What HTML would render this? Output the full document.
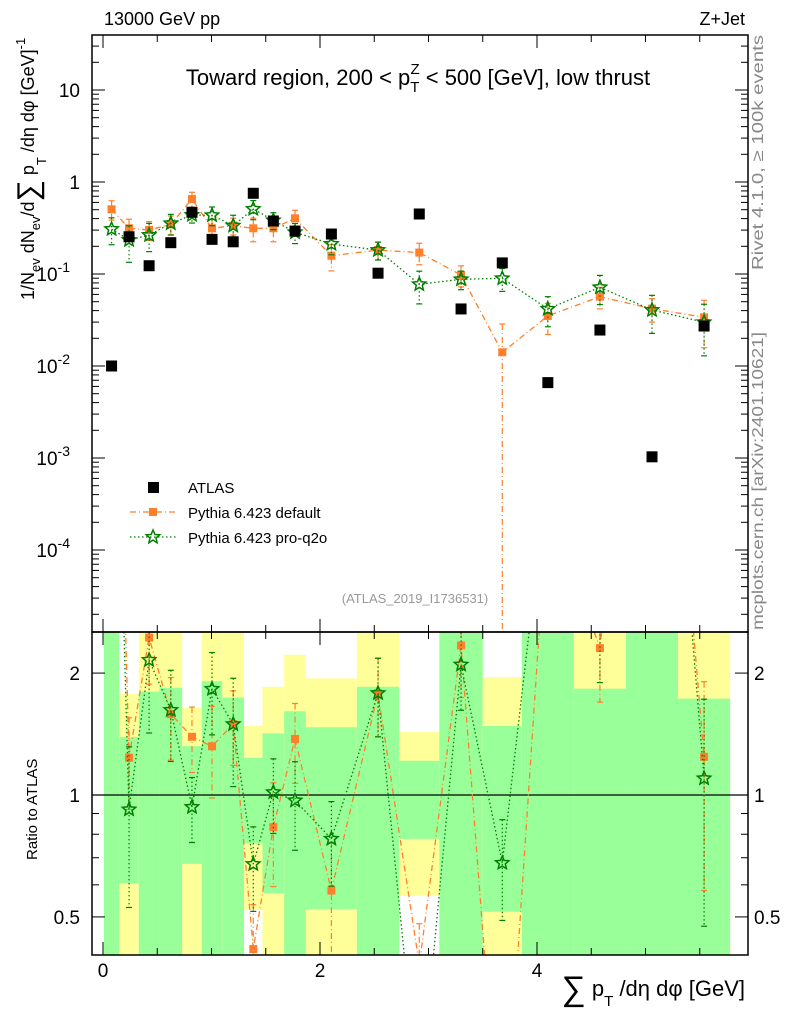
<!DOCTYPE html>
<html><head><meta charset="utf-8"><style>
html,body{margin:0;padding:0;background:#fff;overflow:hidden;width:786px;height:1024px;}
svg{display:block;font-family:"Liberation Sans",sans-serif;}
</style></head><body>
<svg id="chart" width="786" height="1024" viewBox="0 0 786 1024" xmlns="http://www.w3.org/2000/svg" overflow="hidden">
<defs>
<clipPath id="cm"><rect x="92" y="35" width="656" height="597"/></clipPath>
<clipPath id="cr"><rect x="92" y="632" width="656" height="323"/></clipPath>
</defs>
<g id="bands" clip-path="url(#cr)"></g>
<g id="main" clip-path="url(#cm)"></g>
<g id="ratio" clip-path="url(#cr)"></g>
<g id="axes"></g>
<text x="104" y="25" font-size="18">13000 GeV pp</text>
<text x="745" y="25" font-size="18" text-anchor="end">Z+Jet</text>
<text x="418" y="85" font-size="22" text-anchor="middle">Toward region, 200 &lt; p<tspan font-size="15" dy="7">T</tspan><tspan font-size="15" dx="-9" dy="-18">Z</tspan><tspan dy="11"> &lt; 500 [GeV], low thrust</tspan></text>
<text transform="translate(763,270) rotate(-90)" font-size="16" fill="#888" textLength="235" lengthAdjust="spacingAndGlyphs">Rivet 4.1.0, ≥ 100k events</text>
<text transform="translate(763,630) rotate(-90)" font-size="16" fill="#888" textLength="298" lengthAdjust="spacingAndGlyphs">mcplots.cern.ch [arXiv:2401.10621]</text>
<text x="415" y="603" font-size="13" fill="#999" text-anchor="middle">(ATLAS_2019_I1736531)</text>
<text transform="translate(34,300) rotate(-90)" font-size="18">1/N<tspan font-size="13" dy="6">ev</tspan><tspan dy="-6"> dN</tspan><tspan font-size="13" dy="6">ev</tspan><tspan dy="-6">/d</tspan><tspan font-size="30" dy="4">∑</tspan><tspan dy="-4"> p</tspan><tspan font-size="13" dy="12">T</tspan><tspan dy="-12"> /dη dφ  [GeV]</tspan><tspan font-size="13" dy="-9">-1</tspan></text>
<text transform="translate(37,860) rotate(-90)" font-size="15">Ratio to ATLAS</text>
<text x="745" y="996" font-size="22" text-anchor="end"><tspan font-size="34" dy="4">∑</tspan><tspan dy="-4"> p</tspan><tspan font-size="15" dy="10">T</tspan><tspan dy="-10"> /dη dφ [GeV]</tspan></text>
<g id="legend">
<rect x="148" y="482" width="11" height="11" fill="#000"/>
<text x="188" y="493" font-size="15">ATLAS</text>
<line x1="130" y1="512" x2="176" y2="512" stroke="#ff7f2a" stroke-width="1.3" stroke-dasharray="6,3,1,3"/>
<rect x="149" y="508" width="8" height="8" fill="#ff7f2a"/>
<text x="188" y="518" font-size="15">Pythia 6.423 default</text>
<line x1="130" y1="537" x2="176" y2="537" stroke="#007f00" stroke-width="1.3" stroke-dasharray="1.5,2.5"/>
<path id="legstar" fill="none" stroke="#007f00" stroke-width="1.5"/>
<text x="188" y="543" font-size="15">Pythia 6.423 pro-q2o</text>
</g>
</svg>
<script>
const binEdges=[0.008,0.15,0.33,0.52,0.73,0.91,1.1,1.3,1.47,1.67,1.87,2.34,2.73,3.1,3.5,3.86,4.34,4.82,5.3,5.78];
const atlasVals=[0.0100,0.254,0.123,0.219,0.469,0.238,0.224,0.754,0.377,0.293,0.272,0.102,0.449,0.0417,0.132,0.0066,0.0246,0.00103,0.0272];
const defaultVals=[0.505,0.314,0.301,0.347,0.653,0.314,0.335,0.314,0.314,0.403,0.158,0.182,0.171,0.0976,0.0141,0.035,0.0567,0.042,0.0338];
const defaultErrs=[0.12,0.08,0.07,0.08,0.12,0.08,0.07,0.09,0.09,0.09,0.05,0.04,0.045,0.025,0.0145,0.013,0.015,0.012,0.018];
const proq2oVals=[0.308,0.234,0.265,0.355,0.438,0.435,0.335,0.509,0.383,0.284,0.212,0.182,0.0773,0.0875,0.0897,0.0417,0.0716,0.0406,0.0299];
const proq2oErrs=[0.1,0.1,0.09,0.09,0.08,0.1,0.1,0.12,0.08,0.07,0.05,0.04,0.03,0.02,0.025,0.015,0.025,0.018,0.017];
const greenLo=[0.01,0.605,0.01,0.01,0.676,0.01,0.01,0.76,0.572,0.01,0.522,0.01,0.779,0.01,0.515,0.01,0.01,0.01,0.01];
const greenHi=[100,1.39,1.8,1.84,1.32,1.91,1.74,1.236,1.42,1.61,1.47,1.85,1.215,100,1.48,100,1.83,100,1.73];
const yellowLo=[0.01,0.01,0.01,0.01,0.01,0.01,0.01,0.52,0.01,0.01,0.01,0.01,0.564,0.01,0.01,0.01,0.01,0.01,0.01];
const yellowHi=[100,1.775,100,100,1.64,100,100,1.48,1.85,2.22,1.94,100,1.43,100,1.955,100,100,100,100];
const yTickVals=[10,1,0.1,0.01,0.001,0.0001];
const yTickLabels=["10","1","10","10","10","10"];
const yTickExps=["","","-1","-2","-3","-4"];
const xTickVals=[0,2,4];
const rTickVals=[2,1,0.5];

const NS="http://www.w3.org/2000/svg";
const X=u=>103+u*108.5;
const Y=v=>182-92*Math.log10(v);
const R=r=>795-405*Math.log10(r);
function mk(parent,tag,attrs){const e=document.createElementNS(NS,tag);for(const k in attrs)e.setAttribute(k,attrs[k]);parent.appendChild(e);return e;}
function starPath(cx,cy,ro){const ri=ro*0.45;let d="";for(let i=0;i<10;i++){const r=i%2?ri:ro;const a=-Math.PI/2+i*Math.PI/5;d+=(i?"L":"M")+(cx+r*Math.cos(a)).toFixed(1)+","+(cy+r*Math.sin(a)).toFixed(1);}return d+"Z";}
const centers=[];for(let i=0;i<atlasVals.length;i++)centers.push((binEdges[i]+binEdges[i+1])/2);
const gMain=document.getElementById('main'),gRatio=document.getElementById('ratio'),gBands=document.getElementById('bands'),gAx=document.getElementById('axes');
document.getElementById('legstar').setAttribute('d',starPath(153,537,7));
const clampY=y=>Math.max(-200,Math.min(1200,y));
const ly=v=>v>0?clampY(Y(v)):1200, lr=v=>v>0?clampY(R(v)):1200;

for(let i=0;i<atlasVals.length;i++){
  const x0=X(binEdges[i]),x1=X(binEdges[i+1]);
  const yt=Math.max(600,R(yellowHi[i])),ybt=Math.min(1000,R(yellowLo[i]));
  const yb=mk(gBands,'rect',{x:x0,y:yt,width:x1-x0,height:ybt-yt,fill:'#ffff99'});
  
  
  const gt=Math.max(600,R(greenHi[i])),gbt=Math.min(1000,R(greenLo[i]));
  const gb=mk(gBands,'rect',{x:x0,y:gt,width:x1-x0,height:gbt-gt,fill:'#99ff99'});
  
  
}
mk(gRatio,'line',{x1:92,x2:748,y1:R(1),y2:R(1),stroke:'#000','stroke-width':1.2});

function series(g,vals,errs,map,color,dash,marker,name){
  const pts=vals.map((v,i)=>X(centers[i]).toFixed(1)+","+map(v).toFixed(1)).join(" ");
  const pl=mk(g,'polyline',{points:pts,fill:'none',stroke:color,'stroke-width':1.3,'stroke-dasharray':dash});
  
  
  vals.forEach((v,i)=>{
    const cx=X(centers[i]),cy=map(v);
    const yt=map(v+errs[i]),yb=map(v-errs[i]);
    mk(g,'line',{x1:cx,x2:cx,y1:yt,y2:yb,stroke:color,'stroke-width':1.2,'stroke-dasharray':dash});
    mk(g,'line',{x1:cx-3,x2:cx+3,y1:yt,y2:yt,stroke:color,'stroke-width':1.2});
    if(yb<1100)mk(g,'line',{x1:cx-3,x2:cx+3,y1:yb,y2:yb,stroke:color,'stroke-width':1.2});
    let m;
    if(marker==='sq')m=mk(g,'rect',{x:cx-4,y:cy-4,width:8,height:8,fill:color});
    else m=mk(g,'path',{d:starPath(cx,cy,7),fill:'none',stroke:color,'stroke-width':1.5});
    
    
  });
}
series(gMain,defaultVals,defaultErrs,ly,'#ff7f2a','6,3,1,3','sq','pythia-default');
series(gMain,proq2oVals,proq2oErrs,ly,'#007f00','1.5,2.5','star','pythia-proq2o');
atlasVals.forEach((v,i)=>{
  const r=mk(gMain,'rect',{x:X(centers[i])-5.5,y:Y(v)-5.5,width:11,height:11,fill:'#000'});
  
  
});
series(gRatio,defaultVals.map((v,i)=>v/atlasVals[i]),defaultErrs.map((e,i)=>e/atlasVals[i]),lr,'#ff7f2a','6,3,1,3','sq','ratio-default');
series(gRatio,proq2oVals.map((v,i)=>v/atlasVals[i]),proq2oErrs.map((e,i)=>e/atlasVals[i]),lr,'#007f00','1.5,2.5','star','ratio-proq2o');

let f=mk(gAx,'rect',{x:92,y:35,width:656,height:597,fill:'none',stroke:'#000','stroke-width':1.5});


f=mk(gAx,'rect',{x:92,y:632,width:656,height:323,fill:'none',stroke:'#000','stroke-width':1.5});


for(let d=-5;d<=1;d++){for(let m=1;m<10;m++){const v=m*Math.pow(10,d);const y=Y(v);if(y<35||y>632)continue;const L=m===1?13:7;
 mk(gAx,'line',{x1:92,x2:92+L,y1:y,y2:y,stroke:'#000'});mk(gAx,'line',{x1:748-L,x2:748,y1:y,y2:y,stroke:'#000'});}}
yTickVals.forEach((v,i)=>{const t=mk(gAx,'text',{x:yTickExps[i]?70:80,y:Y(v)+7,'font-size':19,'text-anchor':'end'});
 
 
 t.textContent=yTickLabels[i];
 if(yTickExps[i]){const s=mk(t,'tspan',{'font-size':14,dy:-9});s.textContent=yTickExps[i];}});
for(let u=0;u<=5.9;u+=0.5){const x=X(u);const L=(Math.abs(u%2)<0.01)?13:7;
 mk(gAx,'line',{x1:x,x2:x,y1:955,y2:955-L,stroke:'#000'});mk(gAx,'line',{x1:x,x2:x,y1:632,y2:632-L,stroke:'#000'});mk(gAx,'line',{x1:x,x2:x,y1:632,y2:632+L,stroke:'#000'});mk(gAx,'line',{x1:x,x2:x,y1:35,y2:35+L,stroke:'#000'});}
xTickVals.forEach(v=>{const t=mk(gAx,'text',{x:X(v),y:977,'font-size':19,'text-anchor':'middle'});
 
 
 t.textContent=String(v);});
for(let d=-1;d<=0;d++){for(let m=1;m<10;m++){const v=m*Math.pow(10,d);const y=R(v);if(y<632||y>955)continue;const L=(v===1||v===2||v===0.5)?13:7;
 mk(gAx,'line',{x1:92,x2:92+L,y1:y,y2:y,stroke:'#000'});mk(gAx,'line',{x1:748-L,x2:748,y1:y,y2:y,stroke:'#000'});}}
rTickVals.forEach(v=>{[[80,'end'],[754,'start']].forEach(([x,a])=>{const t=mk(gAx,'text',{x:x,y:R(v)+7,'font-size':19,'text-anchor':a});
 
 
 t.textContent=String(v);});});
</script>
</body></html>
